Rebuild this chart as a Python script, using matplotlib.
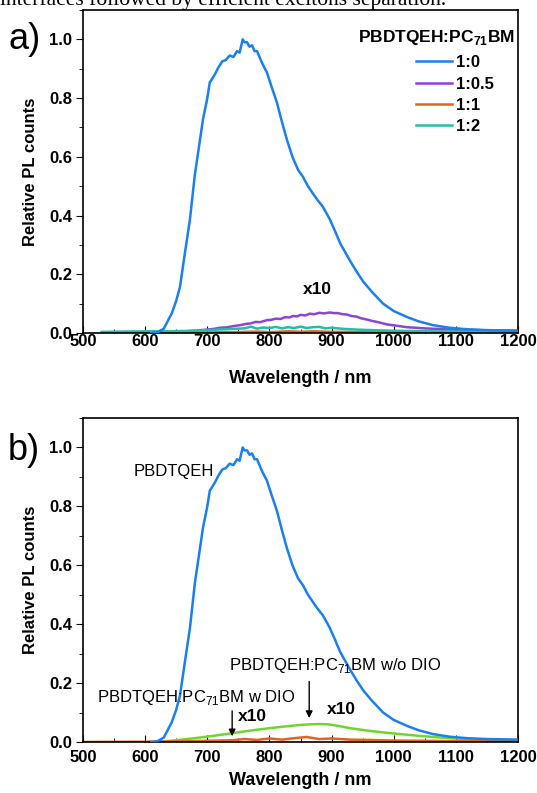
import matplotlib
matplotlib.use("Agg")
import matplotlib.pyplot as plt
from matplotlib.ticker import MultipleLocator

plt.rcParams["font.family"] = "Liberation Sans"
plt.rcParams["mathtext.fontset"] = "custom"
plt.rcParams["mathtext.rm"] = "Liberation Sans"
plt.rcParams["mathtext.bf"] = "Liberation Sans:bold"

# neat film (same trace in both panels)
blue_wl = [610, 620, 630, 643, 650, 656, 664, 672, 680, 687, 693, 700, 704, 712, 718,
           724, 730, 736, 742, 748, 752, 757, 760, 764, 768, 772, 776, 780, 788, 796,
           804, 812, 820, 828, 837, 846, 854, 862, 870, 877, 886, 897, 905, 914, 922,
           930, 940, 951, 965, 983, 1000, 1021, 1040, 1063, 1090, 1118, 1150, 1200]
blue_pl = [0.0, 0.003, 0.015, 0.068, 0.11, 0.157, 0.273, 0.386, 0.54, 0.64, 0.727, 0.80,
           0.853, 0.88, 0.905, 0.925, 0.93, 0.945, 0.94, 0.96, 0.955, 1.0, 0.99, 0.99,
           0.975, 0.98, 0.96, 0.96, 0.92, 0.887, 0.835, 0.785, 0.72, 0.659, 0.60, 0.556,
           0.532, 0.50, 0.475, 0.454, 0.43, 0.388, 0.35, 0.305, 0.275, 0.245, 0.21, 0.175,
           0.14, 0.10, 0.075, 0.055, 0.04, 0.027, 0.018, 0.013, 0.01, 0.008]

# 1:0.5 (x10)
purple_wl = [620, 650, 680, 700, 710, 720, 730, 740, 753, 762, 770, 778, 785, 796, 803,
             810, 818, 825, 832, 838, 845, 850, 858, 865, 872, 880, 888, 897, 904, 910,
             918, 925, 932, 940, 948, 957, 966, 975, 990, 1005, 1021, 1050, 1080, 1128,
             1160, 1200]
purple_pl = [0.0, 0.004, 0.008, 0.012, 0.014, 0.018, 0.019, 0.023, 0.027, 0.031, 0.033,
             0.038, 0.037, 0.044, 0.045, 0.049, 0.048, 0.054, 0.053, 0.058, 0.057, 0.062,
             0.060, 0.066, 0.064, 0.069, 0.067, 0.070, 0.068, 0.068, 0.064, 0.063, 0.058,
             0.056, 0.050, 0.046, 0.041, 0.037, 0.029, 0.025, 0.020, 0.016, 0.013, 0.010,
             0.009, 0.008]

# 1:1
orange_a_wl = [530, 600, 650, 700, 740, 780, 800, 830, 850, 870, 900, 950, 1000, 1100, 1200]
orange_a_pl = [0.0, 0.001, 0.001, 0.002, 0.003, 0.005, 0.003, 0.006, 0.004, 0.006, 0.004,
               0.004, 0.003, 0.002, 0.002]

# 1:2
teal_wl = [530, 560, 600, 640, 680, 700, 720, 740, 760, 770, 780, 790, 800, 810, 820, 830,
           840, 850, 860, 870, 880, 890, 900, 920, 950, 980, 1020, 1060, 1100, 1150, 1200]
teal_pl = [0.004, 0.005, 0.006, 0.006, 0.008, 0.010, 0.012, 0.014, 0.016, 0.022, 0.015,
           0.019, 0.017, 0.021, 0.016, 0.020, 0.017, 0.022, 0.017, 0.020, 0.021, 0.016,
           0.018, 0.014, 0.011, 0.009, 0.007, 0.006, 0.005, 0.005, 0.005]

# panel b: w/o DIO (x10)
green_wl = [610, 624, 650, 680, 710, 740, 770, 800, 830, 850, 865, 880, 895, 910, 930, 960,
            990, 1010, 1040, 1070, 1100, 1118, 1150, 1200]
green_pl = [0.0, 0.001, 0.006, 0.013, 0.021, 0.030, 0.039, 0.047, 0.054, 0.058, 0.060,
            0.061, 0.060, 0.055, 0.047, 0.038, 0.031, 0.027, 0.021, 0.016, 0.012, 0.010,
            0.008, 0.007]

# panel b: w DIO (x10)
orange_b_wl = [500, 600, 650, 700, 740, 760, 780, 800, 820, 840, 860, 880, 900, 930, 960,
               1000, 1050, 1100, 1200]
orange_b_pl = [0.0, 0.001, 0.002, 0.004, 0.006, 0.010, 0.007, 0.012, 0.008, 0.013, 0.017,
               0.010, 0.012, 0.008, 0.007, 0.005, 0.004, 0.003, 0.002]

legend_labels = ["1:0", "1:0.5", "1:1", "1:2"]

c_blue = "#1a7fef"
c_purple = "#8e44d6"
c_orange = "#e2621f"
c_teal = "#22bfa6"
c_green = "#72d62a"

fig = plt.figure(figsize=(5.37, 7.93), dpi=100)
ax1 = fig.add_axes([0.1546, 0.5800, 0.81, 0.4074])
ax2 = fig.add_axes([0.1546, 0.0643, 0.81, 0.4086])

for ax, tpad, lpad in ((ax1, 1.0, 15), (ax2, 6, 5)):
    ax.set_xlim(500, 1200)
    ax.set_ylim(0, 1.1)
    ax.xaxis.set_major_locator(MultipleLocator(100))
    ax.xaxis.set_minor_locator(MultipleLocator(50))
    ax.yaxis.set_major_locator(MultipleLocator(0.2))
    ax.yaxis.set_minor_locator(MultipleLocator(0.1))
    ax.yaxis.set_major_formatter(plt.FormatStrFormatter("%.1f"))
    ax.tick_params(axis="x", which="both", direction="in", top=False, pad=tpad)
    ax.tick_params(axis="x", which="major", length=5)
    ax.tick_params(axis="x", which="minor", length=3)
    ax.tick_params(axis="y", which="both", direction="out", right=False, pad=3)
    ax.tick_params(axis="y", which="major", length=5)
    ax.tick_params(axis="y", which="minor", length=3)
    for lab in ax.get_xticklabels() + ax.get_yticklabels():
        lab.set_fontweight("bold")
        lab.set_fontsize(12)
    for s in ax.spines.values():
        s.set_linewidth(1.2)
    ax.set_xlabel("Wavelength / nm", fontsize=13, fontweight="bold", labelpad=lpad)
    ax.set_ylabel("Relative PL counts", fontsize=12, fontweight="bold", labelpad=8)

# panel a
ax1.plot(blue_wl, blue_pl, color=c_blue, lw=1.8, label=legend_labels[0], zorder=3)
ax1.plot(purple_wl, purple_pl, color=c_purple, lw=1.8, label=legend_labels[1])
ax1.plot(orange_a_wl, orange_a_pl, color=c_orange, lw=1.8, label=legend_labels[2])
ax1.plot(teal_wl, teal_pl, color=c_teal, lw=1.8, label=legend_labels[3])
ax1.text(877, 0.15, "x10", fontsize=12.5, fontweight="bold", ha="center", va="center")
ax1.text(0.993, 0.914, "PBDTQEH:PC$_{\\mathbf{71}}$BM", transform=ax1.transAxes,
         fontsize=12.5, fontweight="bold", ha="right", va="center")
ax1.legend(loc="upper left", bbox_to_anchor=(0.765, 0.86), frameon=False,
           prop={"weight": "bold", "size": 12},
           handlelength=2.15, handletextpad=0.25, labelspacing=0.38,
           borderaxespad=0, borderpad=0)

# panel b
ax2.plot(blue_wl, blue_pl, color=c_blue, lw=1.8, zorder=3)
ax2.plot(green_wl, green_pl, color=c_green, lw=1.8)
ax2.plot(orange_b_wl, orange_b_pl, color=c_orange, lw=1.8)
ax2.text(646, 0.92, "PBDTQEH", fontsize=12, ha="center", va="center")
ax2.text(906, 0.26, "PBDTQEH:PC$_{71}$BM w/o DIO", fontsize=12, ha="center", va="center")
ax2.text(683, 0.15, "PBDTQEH:PC$_{71}$BM w DIO", fontsize=12, ha="center", va="center")
ax2.annotate("", xy=(864, 0.072), xytext=(864, 0.215),
             arrowprops=dict(arrowstyle="-|>", color="black", lw=1.0, mutation_scale=10))
ax2.annotate("", xy=(740, 0.01), xytext=(740, 0.115),
             arrowprops=dict(arrowstyle="-|>", color="black", lw=1.0, mutation_scale=10))
ax2.text(772, 0.085, "x10", fontsize=12.5, fontweight="bold", ha="center", va="center")
ax2.text(915, 0.109, "x10", fontsize=12.5, fontweight="bold", ha="center", va="center")

fig.text(0.015, 0.9496, "a)", fontsize=26, va="center", ha="left")
fig.text(0.015, 0.4325, "b)", fontsize=26, va="center", ha="left")
fig.text(0.0, 1 - 5 / 793, "interfaces followed by efficient excitons separation.",
         fontsize=15.5, family="Liberation Serif", va="baseline", ha="left")

fig.savefig("out.png", dpi=100)
